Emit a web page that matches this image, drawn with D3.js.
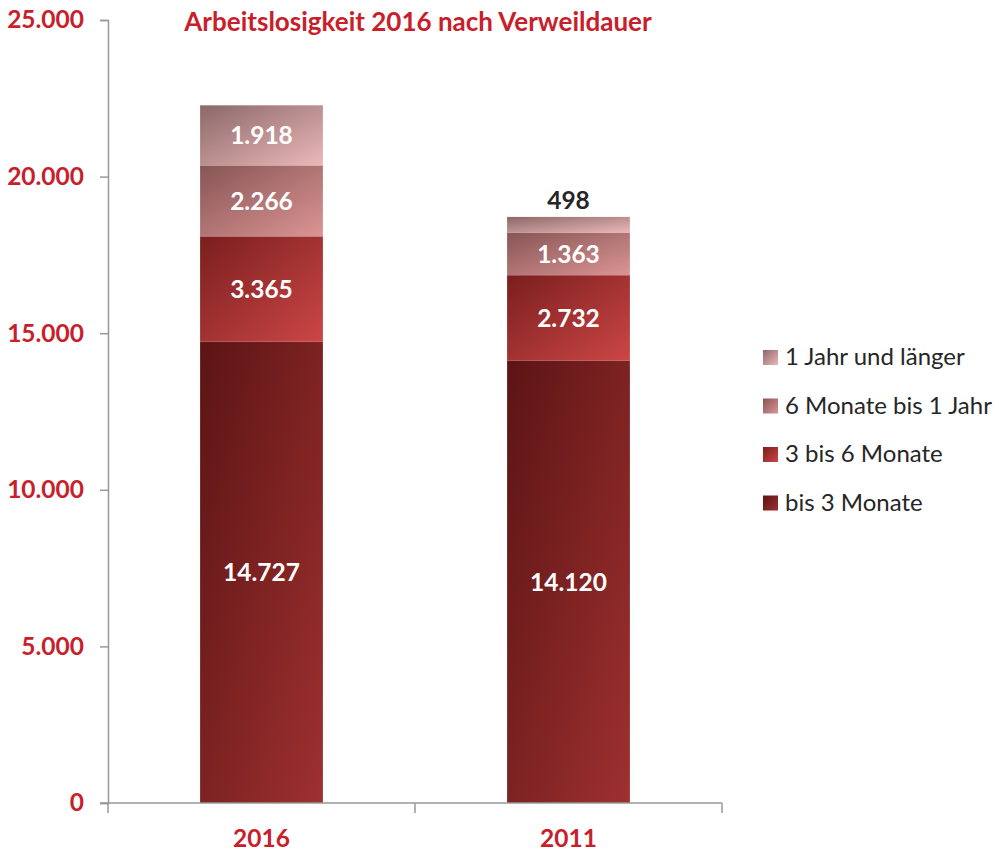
<!DOCTYPE html>
<html>
<head>
<meta charset="utf-8">
<script src="https://cdn.jsdelivr.net/npm/d3@7"></script>
<style>
  body { margin: 0; background: #fff; }
  text { font-family: Lato, "Open Sans", sans-serif; }
</style>
</head>
<body>
<div id="chart"></div>
<script>
var years = ["2016", "2011"];
var series = ["bis 3 Monate", "3 bis 6 Monate", "6 Monate bis 1 Jahr", "1 Jahr und länger"];
var values2016 = [14727, 3365, 2266, 1918];
var values2011 = [14120, 2732, 1363, 498];
var yTicks = [0, 5000, 10000, 15000, 20000, 25000];

var width = 999, height = 852;
var margin = {left: 108, right: 277, top: 20, bottom: 49};

// gradient colours per series (dark top-left -> light bottom-right)
var gradColors = [
    ["#5c1414", "#9e3030"],
    ["#7a1e1e", "#cc4646"],
    ["#875555", "#dc9494"],
    ["#8c6868", "#ebb8b8"]
];

var rows = years.map(function(y, i) {
    var vals = i == 0 ? values2016 : values2011;
    var o = {year: y};
    series.forEach(function(s, j) { o[s] = vals[j]; });
    return o;
});

var svg = d3.select("#chart").append("svg")
    .attr("width", width)
    .attr("height", height);

var defs = svg.append("defs");
gradColors.forEach(function(c, i) {
    var g = defs.append("linearGradient")
        .attr("id", "grad" + i)
        .attr("x1", "0%").attr("y1", "0%")
        .attr("x2", "100%").attr("y2", "100%");
    g.append("stop").attr("offset", "0%").attr("stop-color", c[0]);
    g.append("stop").attr("offset", "100%").attr("stop-color", c[1]);
});

var x = d3.scaleBand()
    .domain(years)
    .range([margin.left, width - margin.right])
    .paddingInner(0.6)
    .paddingOuter(0.3);

var y = d3.scaleLinear()
    .domain([0, 25000])
    .range([height - margin.bottom, margin.top]);

var stacked = d3.stack().keys(series)(rows);

var fmt = function(v) { return d3.format(",")(v).replace(/,/g, "."); };

// bars
var layers = svg.append("g").selectAll("g")
    .data(stacked)
    .enter().append("g")
    .attr("fill", function(d, i) { return "url(#grad" + i + ")"; });

layers.selectAll("rect")
    .data(function(d) { return d; })
    .enter().append("rect")
    .attr("x", function(d) { return x(d.data.year); })
    .attr("y", function(d) { return y(d[1]); })
    .attr("width", x.bandwidth())
    .attr("height", function(d) { return y(d[0]) - y(d[1]); });

// value labels
stacked.forEach(function(layer, i) {
    layer.forEach(function(d) {
        var v = d[1] - d[0];
        var h = y(d[0]) - y(d[1]);
        var small = h < 28;
        svg.append("text")
            .attr("x", x(d.data.year) + x.bandwidth() / 2)
            .attr("y", small ? y(d[1]) - 8 : (y(d[0]) + y(d[1])) / 2 + 9)
            .attr("text-anchor", "middle")
            .attr("font-size", 24.5)
            .attr("font-weight", "bold")
            .attr("fill", small ? "#262626" : "#fff")
            .text(fmt(v));
    });
});

// y axis
var yAxis = svg.append("g")
    .attr("transform", "translate(" + margin.left + ",0)")
    .call(d3.axisLeft(y).tickValues(yTicks).tickSize(8).tickPadding(16).tickFormat(fmt));
yAxis.select(".domain").attr("stroke", "#999").attr("stroke-width", 1.5);
yAxis.selectAll(".tick line").attr("stroke", "#999").attr("stroke-width", 1.5);
yAxis.selectAll("text")
    .attr("fill", "#c8202a")
    .attr("font-size", 24.5)
    .attr("font-weight", "bold")
    .attr("font-family", "Lato, 'Open Sans', sans-serif");

// x axis (tick marks at band edges)
var xAxisG = svg.append("g");
xAxisG.append("line")
    .attr("x1", margin.left - 8).attr("x2", width - margin.right)
    .attr("y1", y(0)).attr("y2", y(0))
    .attr("stroke", "#999").attr("stroke-width", 1.5);
var edges = [margin.left, (margin.left + width - margin.right) / 2, width - margin.right];
xAxisG.selectAll("line.edge")
    .data(edges)
    .enter().append("line")
    .attr("class", "edge")
    .attr("x1", function(d) { return d; }).attr("x2", function(d) { return d; })
    .attr("y1", y(0)).attr("y2", y(0) + 10)
    .attr("stroke", "#999").attr("stroke-width", 1.5);
xAxisG.selectAll("text")
    .data(years)
    .enter().append("text")
    .attr("x", function(d) { return x(d) + x.bandwidth() / 2; })
    .attr("y", y(0) + 44)
    .attr("text-anchor", "middle")
    .attr("font-size", 24.5)
    .attr("font-weight", "bold")
    .attr("fill", "#c8202a")
    .text(function(d) { return d; });

// title
svg.append("text")
    .attr("x", 418)
    .attr("y", 31)
    .attr("text-anchor", "middle")
    .attr("font-size", 26)
    .attr("font-weight", "bold")
    .attr("fill", "#c8202a")
    .text("Arbeitslosigkeit 2016 nach Verweildauer");

// legend (reverse order)
var legend = svg.append("g")
    .selectAll("g")
    .data(series.slice().reverse())
    .enter().append("g")
    .attr("transform", function(d, i) { return "translate(763," + (357 + i * 48.5) + ")"; });

legend.append("rect")
    .attr("x", 0).attr("y", -7)
    .attr("width", 15).attr("height", 15)
    .attr("fill", function(d) { return "url(#grad" + series.indexOf(d) + ")"; });

legend.append("text")
    .attr("x", 22)
    .attr("y", 8)
    .attr("font-size", 24)
    .attr("fill", "#262626")
    .text(function(d) { return d; });
</script>
</body>
</html>
